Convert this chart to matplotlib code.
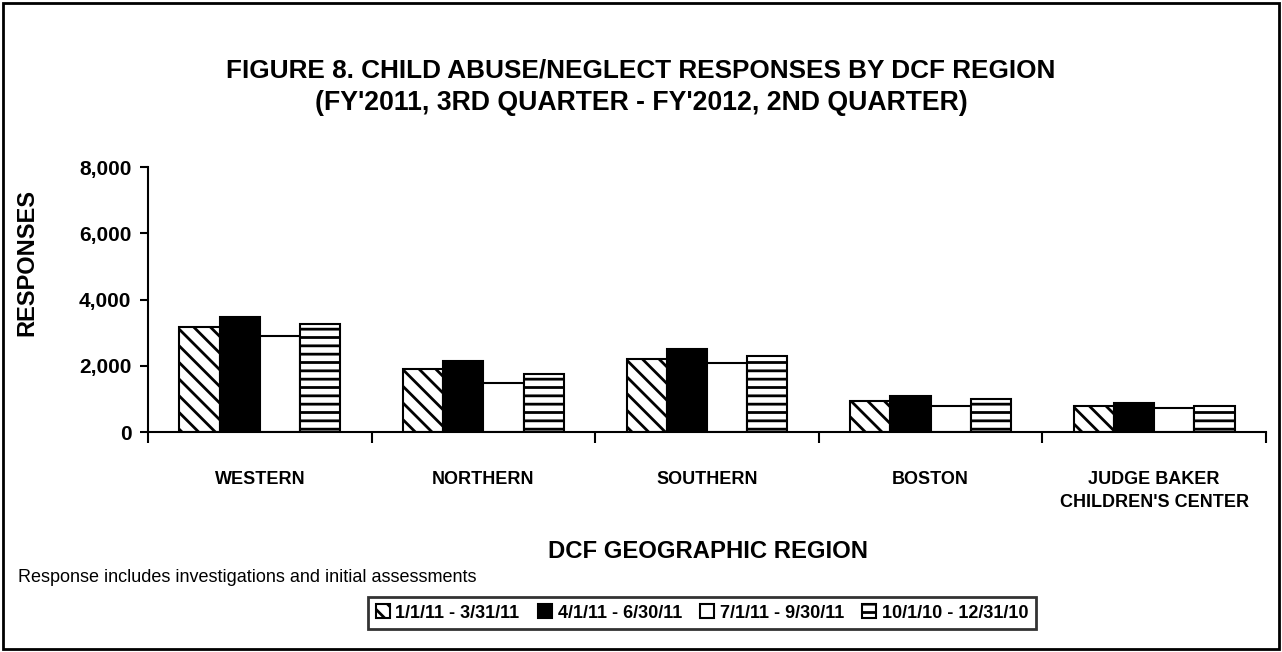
import matplotlib
matplotlib.use("Agg")
import matplotlib.pyplot as plt
import matplotlib.patches as mpatches
from matplotlib import font_manager
import numpy as np

# pick a narrow font if there is one
names = set(f.name for f in font_manager.fontManager.ttflist)
if "Liberation Sans Narrow" in names:
    FONT = "Liberation Sans Narrow"
else:
    FONT = "Liberation Sans"
plt.rcParams["font.family"] = [FONT, "DejaVu Sans"]
plt.rcParams["hatch.linewidth"] = 2.0

regions = ["WESTERN", "NORTHERN", "SOUTHERN", "BOSTON", "JUDGE BAKER\nCHILDREN'S CENTER"]
periods = ["1/1/11 - 3/31/11", "4/1/11 - 6/30/11", "7/1/11 - 9/30/11", "10/1/10 - 12/31/10"]

q1_2011 = [3170, 1910, 2195, 935, 795]
q2_2011 = [3480, 2140, 2500, 1095, 865]
q3_2011 = [2900, 1490, 2085, 785, 735]
q4_2010 = [3260, 1760, 2290, 995, 775]

series = [q1_2011, q2_2011, q3_2011, q4_2010]
fills = ["white", "black", "white", "white"]
hatches = ["\\\\", None, None, "--"]

fig = plt.figure(figsize=(12.82, 6.52), dpi=100)
ax = fig.add_axes([148 / 1282, 1 - 432 / 652, 1118 / 1282, 265 / 652])

x = np.arange(len(regions))
w = 0.18
for i, vals in enumerate(series):
    ax.bar(x + (i - 1.5) * w, vals, w, color=fills[i], edgecolor="black",
           linewidth=1.5, hatch=hatches[i], label=periods[i])

ax.set_xlim(-0.5, len(regions) - 0.5)
ax.set_ylim(0, 8000)
ax.set_yticks([0, 2000, 4000, 6000, 8000])
ax.set_yticklabels(["{:,}".format(v) for v in [0, 2000, 4000, 6000, 8000]],
                   fontsize=15, fontweight="bold")
ax.set_xticks(np.arange(len(regions) + 1) - 0.5)
ax.set_xticklabels([])
ax.set_xticks(x, minor=True)
ax.set_xticklabels(regions, minor=True, fontsize=13, fontweight="bold", linespacing=1.45)
ax.tick_params(axis="x", which="minor", length=0, pad=28)
ax.tick_params(axis="x", which="major", length=8, width=1.5, direction="out")
ax.tick_params(axis="y", length=6, width=1.5, direction="out", pad=6)
for s in ["top", "right"]:
    ax.spines[s].set_visible(False)
for s in ["left", "bottom"]:
    ax.spines[s].set_linewidth(1.5)

fig.text(27 / 1282, 1 - 262 / 652, "RESPONSES", rotation=90,
         ha="center", va="center", fontsize=17, fontweight="bold")
fig.text(0.5, 1 - 70 / 652, "FIGURE 8. CHILD ABUSE/NEGLECT RESPONSES BY DCF REGION",
         ha="center", va="center", fontsize=18.8, fontweight="bold")
fig.text(0.5, 1 - 103 / 652, "(FY'2011, 3RD QUARTER - FY'2012, 2ND QUARTER)",
         ha="center", va="center", fontsize=19.2, fontweight="bold")
fig.text(708 / 1282, 1 - 551 / 652, "DCF GEOGRAPHIC REGION",
         ha="center", va="center", fontsize=17.2, fontweight="bold")
fig.text(18 / 1282, 1 - 577 / 652, "Response includes investigations and initial assessments",
         ha="left", va="center", fontsize=13)

leg = fig.legend(loc="center", bbox_to_anchor=(702 / 1282, 1 - 613 / 652), ncol=4,
                 prop={"size": 13, "weight": "bold"}, frameon=True, fancybox=False,
                 edgecolor="black", handlelength=0.8, handleheight=0.8,
                 handletextpad=0.3, columnspacing=1.0, borderpad=0.4)
leg.get_frame().set_linewidth(2)

fig.patches.append(mpatches.Rectangle((3 / 1282, 3 / 652), 1276 / 1282, 646 / 652,
                                      transform=fig.transFigure, fill=False,
                                      edgecolor="black", linewidth=2))

fig.savefig("out.png", dpi=100)
